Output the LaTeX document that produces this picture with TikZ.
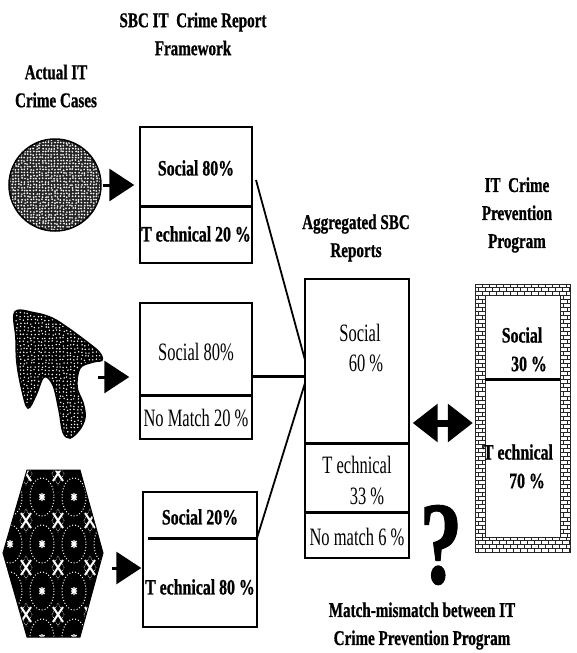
\documentclass[tikz,border=0pt]{standalone}
\usepackage{fontspec}
\setmainfont{Liberation Serif}
\newfontfamily\condB{Liberation Serif}[FakeStretch=0.72,FakeBold=0.8]
\newfontfamily\condR{Liberation Serif}[FakeStretch=0.66]
\usetikzlibrary{arrows.meta}

\tikzset{
  hd/.style={font=\condB\bfseries\fontsize{21}{28}\selectfont, inner sep=0pt, align=center},
  bx/.style={font=\condB\bfseries\fontsize{22}{24}\selectfont, inner sep=0pt},
  rg/.style={font=\condR\fontsize{25}{27}\selectfont, inner sep=0pt},
  frame/.style={draw, line width=1.4pt, inner sep=0pt, fill=white},
  divider/.style={line width=3pt},
  link/.style={line width=1.8pt},
  feed/.style={line width=3pt, -{Triangle[length=25pt,width=32pt]}},
  both/.style={line width=7pt, {Triangle[length=25pt,width=37pt]}-{Triangle[length=25pt,width=37pt]}},
  brick/.style={line width=0.6pt, black!85},
}

\begin{document}
\begin{tikzpicture}[x=1pt, y=-1pt]
\useasboundingbox (0,0) rectangle (577,653);
\pgfmathsetseed{11}

% ---------- column headings ----------
\node[hd] (hframe) at (193,34) {SBC IT\ \ Crime Report\\Framework};
\node[hd] (hcases) at (56,86) {Actual IT\\Crime Cases};
\node[hd] (hagg) at (356,238) {Aggregated SBC\\Reports};
\node[hd] (hprev) at (517,215) {IT\ \ Crime\\Prevention\\Program};
\node[hd] (hmatch) at (422,626) {Match-mismatch between IT\\Crime Prevention Program};

% ---------- crime case shapes ----------
% stippled disc
\node[circle, inner sep=0pt, minimum size=92pt] (c1) at (55,185) {};
\begin{scope}
  \clip (c1.center) circle [radius=46];
  \fill[black!85] (8,138) rectangle (102,232);
  \foreach \i in {0,...,30} {
    \foreach \j in {0,...,30} {
      \fill[white] ({9+3*\i+1.2*rnd},{139+3*\j+1.2*rnd}) circle [radius=0.95];
    }
  }
\end{scope}
\draw[line width=1.5pt] (c1.center) circle [radius=46];

% bird-like blot
\def\birdpath{plot[smooth cycle, tension=0.6] coordinates {
   (15,312) (35,313) (52,318) (68,328) (87,342) (99,352) (102,360) (93,362)
   (80,368) (77,387) (83,403) (85,417) (80,429) (70,438) (63,432) (59,410)
   (53,385) (44,377) (36,395) (28,408) (22,390) (17,363) (16,338)}}
\begin{scope}
  \clip \birdpath;
  \fill[black] (10,305) rectangle (110,445);
  \foreach \i in {0,...,25} {
    \foreach \j in {0,...,36} {
      \fill[white] ({16+3.6*\i+1.6*rnd},{312+3.6*\j+1.6*rnd}) circle [radius=0.8];
    }
  }
\end{scope}
\draw[line width=1.6pt] \birdpath;
\coordinate (bird) at (98,377);

% patterned hexagon
\begin{scope}
  \clip (27,470) -- (80,470) -- (103,553) -- (80,637) -- (27,637) -- (3,553) -- cycle;
  \fill[black] (0,465) rectangle (110,645);
  \foreach \gx in {10,42,74,106} {
    \foreach \gy in {450,497,544,591,638} {
      \draw[white, dotted, line width=1pt] (\gx,\gy) ellipse [x radius=12, y radius=19];
      \draw[white, line width=1.3pt] (\gx-3,\gy) -- (\gx+3,\gy) (\gx,\gy-4) -- (\gx,\gy+4)
        (\gx-2.5,\gy-3) -- (\gx+2.5,\gy+3) (\gx-2.5,\gy+3) -- (\gx+2.5,\gy-3);
      \draw[white, line width=0.6pt, densely dotted] (\gx+16,\gy+12) -- (\gx+22,\gy+23.5) -- (\gx+16,\gy+35) -- (\gx+10,\gy+23.5) -- cycle;
      \draw[white, line width=2pt] (\gx+11,\gy+16) -- (\gx+21,\gy+31) (\gx+11,\gy+31) -- (\gx+21,\gy+16);
    }
  }
\end{scope}
\draw[line width=1pt] (27,470) -- (80,470) -- (103,553) -- (80,637) -- (27,637) -- (3,553) -- cycle;
\coordinate (hex) at (112,568);

% ---------- framework report boxes ----------
\node[frame, minimum width=112pt, minimum height=136pt] (b1) at (196,195) {};
\draw[divider] (140,206) -- (252,206);
\node[bx] (b1s) at (196,168) {Social 80\%};
\node[bx] (b1t) at (196,234) {T echnical 20 \%};

\node[frame, minimum width=112pt, minimum height=136pt] (b2) at (196,371) {};
\draw[divider] (140,395) -- (252,395);
\node[rg] (b2s) at (196,352) {Social 80\%};
\node[rg] (b2n) at (196,418) {No Match 20 \%};

\node[frame, minimum width=114pt, minimum height=135pt] (b3) at (200,559.5) {};
\draw[divider] (148,538) -- (257,538);
\node[bx] (b3s) at (200,517) {Social 20\%};
\node[bx] (b3t) at (200,587) {T echnical 80 \%};

% ---------- aggregated reports ----------
\node[frame, minimum width=104pt, minimum height=279pt] (agg) at (357,418.5) {};
\draw[divider] (305,443) -- (409,443);
\draw[divider] (305,512) -- (409,512);
\node[rg] (ags) at (360,333) {Social};
\node[rg] (agsv) at (366,363) {60 \%};
\node[rg] (agt) at (357,465) {T echnical};
\node[rg] (agtv) at (367,496) {33 \%};
\node[rg] (agn) at (357,537) {No match 6 \%};

% ---------- prevention programme (brick frame) ----------
\node[inner sep=0pt, minimum width=95pt, minimum height=268pt] (prev) at (522.5,418) {};
\begin{scope}[brick]
  \draw (475,284) rectangle (570,552);
  \draw (485,295) rectangle (560,537);
  \foreach \k in {0,1,2} {
    \draw (475,{284+3.67*\k}) -- (570,{284+3.67*\k});
    \foreach \n in {0,...,13}
      \draw ({475+7*\n+3.5*mod(\k,2)},{284+3.67*\k}) -- ++(0,3.67);
  }
  \foreach \k in {0,1,2,3} {
    \draw (475,{537+3.75*\k}) -- (570,{537+3.75*\k});
    \foreach \n in {0,...,13}
      \draw ({475+7*\n+3.5*mod(\k,2)},{537+3.75*\k}) -- ++(0,3.75);
  }
  \foreach \k in {0,...,59} {
    \draw (475,{295+4.033*\k}) -- (485,{295+4.033*\k});
    \draw ({478+4*mod(\k,2)},{295+4.033*\k}) -- ++(0,4.033);
    \draw (560,{295+4.033*\k}) -- (570,{295+4.033*\k});
    \draw ({563+4*mod(\k,2)},{295+4.033*\k}) -- ++(0,4.033);
  }
\end{scope}
\draw[divider] (485,379) -- (560,379);
\node[bx] (pvs) at (522,335) {Social};
\node[bx] (pvsv) at (529,364) {30 \%};
\node[bx] (pvt) at (518,452) {T echnical};
\node[bx] (pvtv) at (527,481) {70 \%};

% ---------- question mark ----------
\node[inner sep=0pt, font=\condB\bfseries\fontsize{118}{118}\selectfont] (qm) at (441,545) {?};

% ---------- connectors ----------
\draw[feed, shorten <=2pt, shorten >=5pt] (c1.east) -- (c1.east -| b1.west);
\draw[feed, shorten >=10pt] (bird) -- (bird -| b2.west);
\draw[feed, shorten >=1pt] (hex) -- (hex -| b3.west);

\coordinate (s1) at (256,180);
\coordinate (j1) at (305,360);
\coordinate (s2) at (252,376);
\coordinate (j2) at (305,376);
\coordinate (s3) at (257,538);
\coordinate (j3) at (305,383);
\draw[link] (s1) -- (j1);
\draw[divider] (s2) -- (j2);
\draw[link] (s3) -- (j3);

\coordinate (mid) at (0,423);
\draw[both, shorten <=3pt, shorten >=2pt] (agg.east |- mid) -- (prev.west |- mid);
\end{tikzpicture}
\end{document}
